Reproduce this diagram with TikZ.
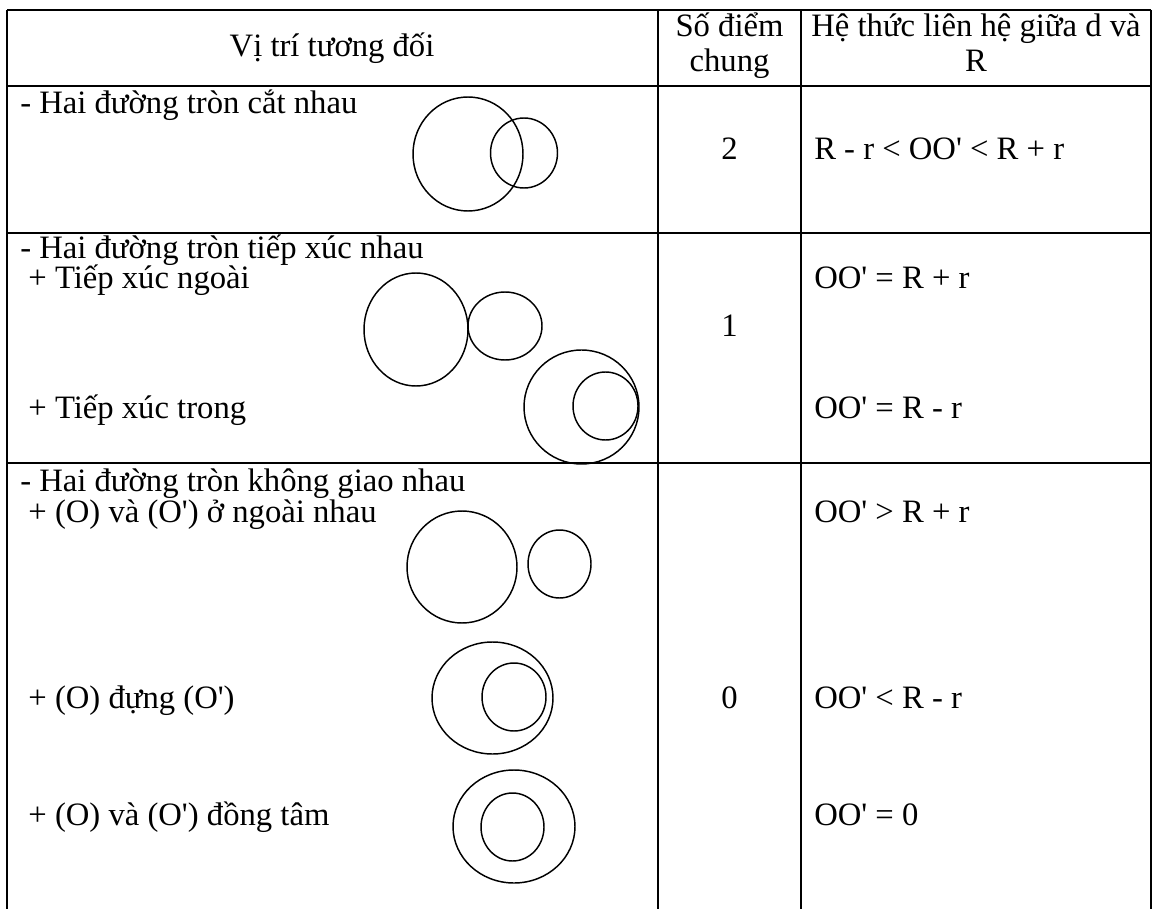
\documentclass[tikz,border=0pt]{standalone}
\usepackage{fontspec}
\setmainfont{Liberation Serif}
\newcommand{\ap}{\textquotesingle}
\begin{document}
\begin{tikzpicture}[x=0.75pt,y=-0.75pt,
  grid/.style={line width=1.2pt,black},
  circ/.style={line width=1.1pt,black},
  txt/.style={anchor=base west,inner sep=0pt,font=\fontsize{24.5pt}{28pt}\selectfont},
  ctxt/.style={anchor=base,inner sep=0pt,font=\fontsize{24.5pt}{28pt}\selectfont}]
\useasboundingbox (0,0) rectangle (1156,909);
% grid
\draw[grid] (7,10) -- (1151,10);
\draw[grid] (7,86) -- (1151,86);
\draw[grid] (7,233) -- (1151,233);
\draw[grid,line width=0.9pt] (7,463) -- (1151,463);
\draw[grid,line width=1.5pt] (7,10) -- (7,909);
\draw[grid] (658,10) -- (658,909);
\draw[grid] (801,10) -- (801,909);
\draw[grid] (1151,10) -- (1151,909);
% header
\node[ctxt] (h1) at (332,57) {Vị trí tương đối};
\node[ctxt] (h2a) at (729.5,37) {Số điểm};
\node[ctxt] (h2b) at (729.5,72) {chung};
\node[ctxt] (h3a) at (976,37) {Hệ thức liên hệ giữa d và};
\node[ctxt] (h3b) at (976,72) {R};
% row 1
\node[txt] (r1a) at (20,114) {- Hai đường tròn cắt nhau};
\node[ctxt] (r1n) at (729.5,160) {2};
\node[txt] (r1c) at (814,160) {R - r < OO\ap{} < R + r};
\draw[circ] (468,154) ellipse (55 and 57);
\draw[circ] (524,153) ellipse (33.5 and 35);
% row 2
\node[txt] (r2a) at (20,258) {- Hai đường tròn tiếp xúc nhau};
\node[txt] (r2b) at (20,289) {\ + Tiếp xúc ngoài};
\node[txt] (r2c) at (20,418) {\ + Tiếp xúc trong};
\node[ctxt] (r2n) at (729.5,336) {1};
\node[txt] (r2d) at (814,289) {OO\ap{} = R + r};
\node[txt] (r2e) at (814,418) {OO\ap{} = R - r};
\draw[circ] (416,329.5) ellipse (52 and 56.5);
\draw[circ] (505,326) ellipse (37 and 34);
\draw[circ] (581.5,407) ellipse (57.5 and 57);
\draw[circ] (605.5,406) ellipse (32.5 and 34);
% row 3
\node[txt] (r3a) at (20,491) {- Hai đường tròn không giao nhau};
\node[txt] (r3b) at (20,522) {\ + (O) và (O\ap) ở ngoài nhau};
\node[txt] (r3c) at (20,708) {\ + (O) đựng (O\ap)};
\node[txt] (r3d) at (20,825) {\ + (O) và (O\ap) đồng tâm};
\node[ctxt] (r3n) at (729.5,708) {0};
\node[txt] (r3e) at (814,522) {OO\ap{} > R + r};
\node[txt] (r3f) at (814,708) {OO\ap{} < R - r};
\node[txt] (r3g) at (814,825) {OO\ap{} = 0};
\draw[circ] (462,567) ellipse (55 and 56);
\draw[circ] (559.5,564) ellipse (31.5 and 34);
\draw[circ] (492.5,698) ellipse (60.5 and 56);
\draw[circ] (514,697) ellipse (32 and 34);
\draw[circ] (514,826.5) ellipse (61 and 56.5);
\draw[circ] (512.5,827) ellipse (31.5 and 34);
\end{tikzpicture}
\end{document}
